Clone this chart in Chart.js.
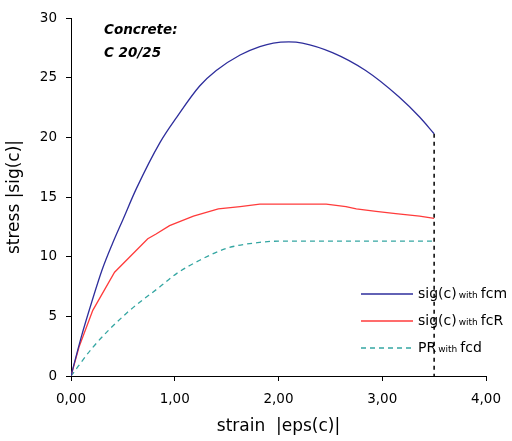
<!DOCTYPE html>
<html>
<head>
<meta charset="utf-8">
<script src="https://cdn.jsdelivr.net/npm/chart.js@4"></script>
<style>
  html, body { margin: 0; padding: 0; background: #fff; }
  #wrap { width: 512px; height: 441px; }
</style>
</head>
<body>
<div id="wrap"><canvas id="stressChart"></canvas></div>
<script>
const fcmStrain = [0, 0.1, 0.2, 0.3, 0.4, 0.5, 0.63, 0.86, 1.02, 1.24, 1.40, 1.63, 1.82, 1.95, 2.10, 2.23, 2.52, 2.84, 3.16, 3.36, 3.50];
const fcmStress = [0, 3.3, 6.2, 8.9, 11.1, 13.1, 15.7, 19.6, 21.7, 24.3, 25.6, 26.9, 27.6, 27.9, 28.0, 27.9, 27.1, 25.6, 23.4, 21.7, 20.3];

const fcRStrain = [0, 0.08, 0.21, 0.42, 0.74, 0.82, 0.95, 1.18, 1.42, 1.63, 1.82, 2.10, 2.46, 2.65, 2.75, 2.94, 3.13, 3.36, 3.50];
const fcRStress = [0, 2.5, 5.5, 8.7, 11.5, 11.9, 12.6, 13.4, 14.0, 14.2, 14.4, 14.4, 14.4, 14.2, 14.0, 13.8, 13.6, 13.4, 13.2];

const prStrain = [0, 0.21, 0.54, 0.86, 1.02, 1.24, 1.50, 1.82, 2.00, 3.50];
const prStress = [0, 2.4, 5.3, 7.5, 8.6, 9.7, 10.7, 11.2, 11.3, 11.3];

const limitStrain = [3.5, 3.5];
const limitStress = [20.3, 0];

const legendItems = [
    { main: 'sig(c)', sub: 'with', tail: 'fcm', color: '#2e2e9c', dash: [] },
    { main: 'sig(c)', sub: 'with', tail: 'fcR', color: '#ff3b3b', dash: [] },
    { main: 'PR', sub: 'with', tail: 'fcd', color: '#34a6a2', dash: [5, 4] }
];

const FONT = '"DejaVu Sans", Verdana, sans-serif';
const toPoints = (xs, ys) => xs.map((x, i) => ({ x: x, y: ys[i] }));

// draws the note text and the mixed-size legend
const extras = {
    id: 'extras',
    afterDraw(chart) {
        const c = chart.ctx;
        c.save();
        c.fillStyle = '#000';
        c.textBaseline = 'middle';
        c.font = 'italic bold 13.5px ' + FONT;
        c.fillText('Concrete:', 104, 30);
        c.fillText('C 20/25', 104, 53);

        legendItems.forEach((it, i) => {
            const y = 294 + i * 27;
            c.strokeStyle = it.color;
            c.lineWidth = 1.5;
            c.setLineDash(it.dash);
            c.beginPath();
            c.moveTo(361, y);
            c.lineTo(413, y);
            c.stroke();
            c.setLineDash([]);
            c.fillStyle = '#000';
            let x = 418;
            c.font = '14px ' + FONT;
            c.fillText(it.main, x, y);
            x += c.measureText(it.main).width + 2;
            c.font = '9px ' + FONT;
            c.fillText(it.sub, x, y + 2);
            x += c.measureText(it.sub).width + 3;
            c.font = '14px ' + FONT;
            c.fillText(it.tail, x, y);
        });
        c.restore();
    }
};

const ctx = document.getElementById('stressChart').getContext('2d');

new Chart(ctx, {
    type: 'line',
    data: {
        datasets: [{
            label: 'sig(c) with fcm',
            data: toPoints(fcmStrain, fcmStress),
            borderColor: legendItems[0].color,
            borderWidth: 1.3,
            pointRadius: 0,
            cubicInterpolationMode: 'monotone'
        }, {
            label: 'sig(c) with fcR',
            data: toPoints(fcRStrain, fcRStress),
            borderColor: legendItems[1].color,
            borderWidth: 1.3,
            pointRadius: 0,
            tension: 0
        }, {
            label: 'PR with fcd',
            data: toPoints(prStrain, prStress),
            borderColor: legendItems[2].color,
            borderWidth: 1.3,
            borderDash: [5, 4],
            pointRadius: 0,
            cubicInterpolationMode: 'monotone'
        }, {
            label: 'limit',
            data: toPoints(limitStrain, limitStress),
            borderColor: '#000',
            borderWidth: 1.5,
            borderDash: [4, 4],
            pointRadius: 0,
            tension: 0
        }]
    },
    options: {
        responsive: true,
        maintainAspectRatio: false,
        animation: false,
        layout: { padding: { top: 18, right: 26, left: 0, bottom: 0 } },
        plugins: {
            legend: { display: false },
            tooltip: { enabled: false }
        },
        scales: {
            x: {
                type: 'linear',
                min: 0,
                max: 4,
                afterFit: s => { s.height = 65; },
                border: { color: '#000', width: 1 },
                grid: { drawOnChartArea: false, color: '#000', tickLength: 5 },
                ticks: {
                    stepSize: 1,
                    color: '#000',
                    padding: 10,
                    font: { family: FONT, size: 13.5 },
                    callback: v => v.toFixed(2).replace('.', ',')
                },
                title: {
                    display: true,
                    text: 'strain  |eps(c)|',
                    color: '#000',
                    padding: { top: 6 },
                    font: { family: FONT, size: 17 }
                }
            },
            y: {
                min: 0,
                max: 30,
                afterFit: s => { s.width = 71; },
                border: { color: '#000', width: 1 },
                grid: { drawOnChartArea: false, color: '#000', tickLength: 5 },
                ticks: {
                    stepSize: 5,
                    color: '#000',
                    padding: 9,
                    font: { family: FONT, size: 13.5 }
                },
                title: {
                    display: true,
                    text: 'stress |sig(c)|',
                    color: '#000',
                    padding: { bottom: 4 },
                    font: { family: FONT, size: 17 }
                }
            }
        }
    },
    plugins: [extras]
});
</script>
</body>
</html>
